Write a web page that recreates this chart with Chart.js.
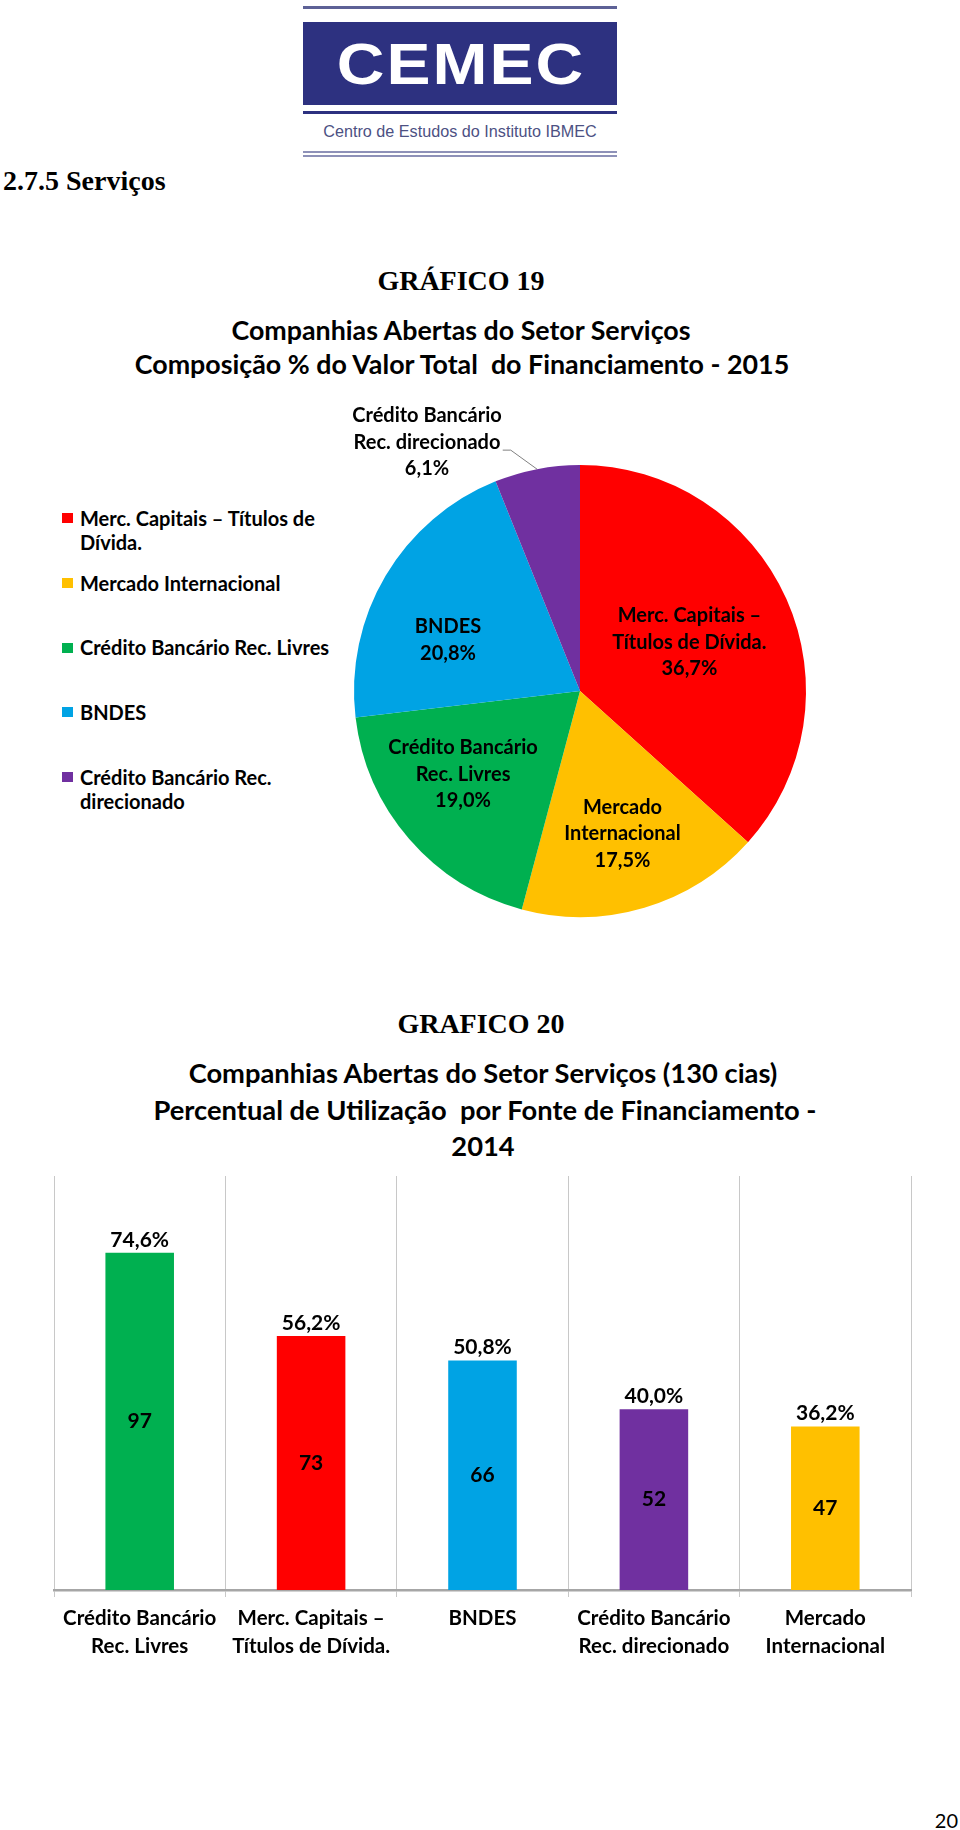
<!DOCTYPE html>
<html lang="pt-BR">
<head>
<meta charset="utf-8">
<title>CEMEC - Gráficos 19 e 20</title>
<script src="https://cdn.jsdelivr.net/npm/chart.js@4.4.1/dist/chart.umd.min.js"></script>
<style>
  html, body { margin: 0; padding: 0; background: #fff; }
  #page { position: relative; width: 960px; height: 1830px; overflow: hidden; background: #fff; }
  .t { position: absolute; white-space: pre; line-height: 1; color: #000; }
  .c { transform: translate(-50%, -50%); }
  .l { transform: translate(0, -50%); }
  .r { transform: translate(-100%, -50%); }
  .serif { font-family: "Liberation Serif", "Times New Roman", serif; font-weight: bold; font-size: 28px; }
  .cal { font-family: Lato, "Noto Sans", sans-serif; font-weight: bold; font-size: 26.8px; }
  .cal2 { font-family: Lato, "Noto Sans", sans-serif; font-weight: bold; font-size: 27.3px; }
  .bar { position: absolute; }
  canvas { position: absolute; left: 0; }
  .leg-box { position: absolute; width: 11px; height: 10px; }
  .leg-txt { position: absolute; left: 80px; width: 262px; font: bold 20px Lato, sans-serif; line-height: 24.5px; color: #000; }
</style>
</head>
<body>
<div id="page">
  <!-- logo -->
  <div class="bar" style="left:303px;top:6px;width:314px;height:3px;background:#5d6196"></div>
  <div class="bar" style="left:303px;top:22px;width:314px;height:83px;background:#2d3180"></div>
  <div class="t" style="left:461px;top:64px;transform:translate(-50%,-50%) scale(1,0.88);font:bold 66px 'Liberation Sans',Arial,sans-serif;color:#fff;letter-spacing:2px">CEMEC</div>
  <div class="bar" style="left:303px;top:111px;width:314px;height:3px;background:#2d3180"></div>
  <div class="t c" style="left:460px;top:131px;font:16.2px 'Liberation Sans',Arial,sans-serif;color:#4d5183">Centro de Estudos do Instituto IBMEC</div>
  <div class="bar" style="left:303px;top:151px;width:314px;height:2px;background:#8e91b8"></div>
  <div class="bar" style="left:303px;top:155px;width:314px;height:2px;background:#8e91b8"></div>

  <div class="t l serif" style="left:3px;top:181px">2.7.5 Serviços</div>

  <div class="t c serif" style="left:461px;top:281px">GRÁFICO 19</div>
  <div class="t c cal" style="left:461px;top:330px">Companhias Abertas do Setor Serviços</div>
  <div class="t c cal" style="left:462px;top:364px">Composição % do Valor Total  do Financiamento - 2015</div>

  <div id="legend"></div>
  <canvas id="pieChart" width="960" height="540" style="top:390px"></canvas>

  <div class="t c serif" style="left:481px;top:1024px">GRAFICO 20</div>
  <div class="t c cal2" style="left:483px;top:1073px">Companhias Abertas do Setor Serviços (130 cias)</div>
  <div class="t c cal2" style="left:485px;top:1110px">Percentual de Utilização  por Fonte de Financiamento -</div>
  <div class="t c cal2" style="left:483px;top:1146px">2014</div>

  <canvas id="barChart" width="960" height="520" style="top:1160px"></canvas>

  <div class="t r" style="left:958px;top:1820px;font:20px Lato,sans-serif">20</div>
</div>

<script>
// Gráfico 19 - composição % do valor total do financiamento (2015)
const pieCategories = ['Merc. Capitais – Títulos de Dívida.', 'Mercado Internacional', 'Crédito Bancário Rec. Livres', 'BNDES', 'Crédito Bancário Rec. direcionado'];
const pieValues = [36.7, 17.5, 19.0, 20.8, 6.1];
const pieColors = ['#FF0000', '#FFC000', '#00B050', '#00A3E4', '#7030A0'];
const pieLabelLines = [['Merc. Capitais –', 'Títulos de Dívida.'], ['Mercado', 'Internacional'], ['Crédito Bancário', 'Rec. Livres'], ['BNDES'], ['Crédito Bancário', 'Rec. direcionado']];

// Gráfico 20 - percentual de utilização por fonte (2014)
const barCategories = [['Crédito Bancário', 'Rec. Livres'], ['Merc. Capitais –', 'Títulos de Dívida.'], 'BNDES', ['Crédito Bancário', 'Rec. direcionado'], ['Mercado', 'Internacional']];
const barPercents = [74.6, 56.2, 50.8, 40.0, 36.2];
const barCounts = [97, 73, 66, 52, 47];
const barColors = ['#00B050', '#FF0000', '#00A3E4', '#7030A0', '#FFC000'];

// label placement inside the slices: fraction of radius (null = outside with leader) and angle nudge in degrees
const pieLabelRadius = [0.53, 0.66, 0.635, 0.626, null];
const pieLabelShift = [0, 0, 5.5, -9.6, 0];

function fmt(v) {
  return v.toFixed(1).replace('.', ',') + '%';
}

// legend (left of the pie)
const legend = document.getElementById('legend');
pieCategories.forEach((name, i) => {
  const cy = 518 + i * 64.75;
  const box = document.createElement('div');
  box.className = 'leg-box';
  box.style.left = '62px';
  box.style.top = (cy - 5) + 'px';
  box.style.background = pieColors[i];
  legend.appendChild(box);
  const txt = document.createElement('div');
  txt.className = 'leg-txt';
  txt.style.top = (cy - 12.25) + 'px';
  txt.textContent = name;
  legend.appendChild(txt);
});

const pieLabels = {
  id: 'pieLabels',
  afterDatasetsDraw(chart) {
    const ctx = chart.ctx;
    const lh = 26.7;
    ctx.save();
    ctx.font = 'bold 20px Lato';
    ctx.fillStyle = '#000';
    ctx.textAlign = 'center';
    ctx.textBaseline = 'middle';
    chart.getDatasetMeta(0).data.forEach((arc, i) => {
      const p = arc.getProps(['x', 'y', 'startAngle', 'endAngle', 'outerRadius'], true);
      const mid = (p.startAngle + p.endAngle) / 2 + pieLabelShift[i] * Math.PI / 180;
      const lines = pieLabelLines[i].concat(fmt(pieValues[i]));
      const f = pieLabelRadius[i];
      let cx, cy;
      if (f !== null) {
        cx = p.x + Math.cos(mid) * p.outerRadius * f;
        cy = p.y + Math.sin(mid) * p.outerRadius * f;
      } else {
        const ex = p.x + Math.cos(mid) * p.outerRadius;
        const ey = p.y + Math.sin(mid) * p.outerRadius;
        cx = ex - 110;
        cy = ey - 27;
        const w = Math.max(...lines.map(s => ctx.measureText(s).width));
        const lx = cx + w / 2 + 1, ly = cy + 8;
        ctx.strokeStyle = '#808080';
        ctx.lineWidth = 1;
        ctx.beginPath();
        ctx.moveTo(lx, ly);
        ctx.lineTo(lx + 8, ly);
        ctx.lineTo(ex, ey);
        ctx.stroke();
      }
      const top = cy - (lines.length - 1) * lh / 2;
      lines.forEach((s, k) => ctx.fillText(s, cx, top + k * lh));
    });
    ctx.restore();
  }
};

const barLabels = {
  id: 'barLabels',
  afterDatasetsDraw(chart) {
    const ctx = chart.ctx;
    ctx.save();
    ctx.font = 'bold 21px Lato';
    ctx.fillStyle = '#000';
    ctx.textAlign = 'center';
    ctx.textBaseline = 'middle';
    chart.getDatasetMeta(0).data.forEach((bar, i) => {
      const p = bar.getProps(['x', 'y', 'base'], true);
      ctx.fillText(fmt(barPercents[i]), p.x, p.y - 13);
      ctx.fillText(String(barCounts[i]), p.x, (p.y + p.base) / 2);
    });
    ctx.restore();
  }
};

Chart.defaults.font.family = 'Lato';
Chart.defaults.color = '#000';

new Chart(document.getElementById('pieChart'), {
  type: 'pie',
  data: {
    labels: pieCategories,
    datasets: [{
      data: pieValues,
      backgroundColor: pieColors,
      borderWidth: 0,
      hoverOffset: 0,
      offset: 0
    }]
  },
  options: {
    responsive: false,
    animation: false,
    layout: { padding: { left: 354, right: 154, top: 75, bottom: 13 } },
    plugins: {
      legend: { display: false },
      tooltip: { enabled: false }
    }
  },
  plugins: [pieLabels]
});

new Chart(document.getElementById('barChart'), {
  type: 'bar',
  data: {
    labels: barCategories,
    datasets: [{
      data: barPercents,
      backgroundColor: barColors,
      borderWidth: 0,
      barPercentage: 0.4,
      categoryPercentage: 1
    }]
  },
  options: {
    responsive: false,
    animation: false,
    layout: { padding: { left: 54, right: 49, top: 16, bottom: 0 } },
    plugins: {
      legend: { display: false },
      tooltip: { enabled: false }
    },
    scales: {
      x: {
        offset: true,
        grid: { offset: true, color: '#c8c8c8', lineWidth: 1, tickLength: 7, drawTicks: true },
        border: { display: true, color: '#a6a6a6', width: 2.5 },
        ticks: {
          color: '#000',
          font: { size: 20.5, weight: 'bold', lineHeight: 1.33 },
          padding: 8,
          maxRotation: 0,
          autoSkip: false
        },
        afterFit(scale) { scale.height = 90; }
      },
      y: { display: false, min: 0, max: 91.6 }
    }
  },
  plugins: [barLabels]
});
</script>
</body>
</html>
